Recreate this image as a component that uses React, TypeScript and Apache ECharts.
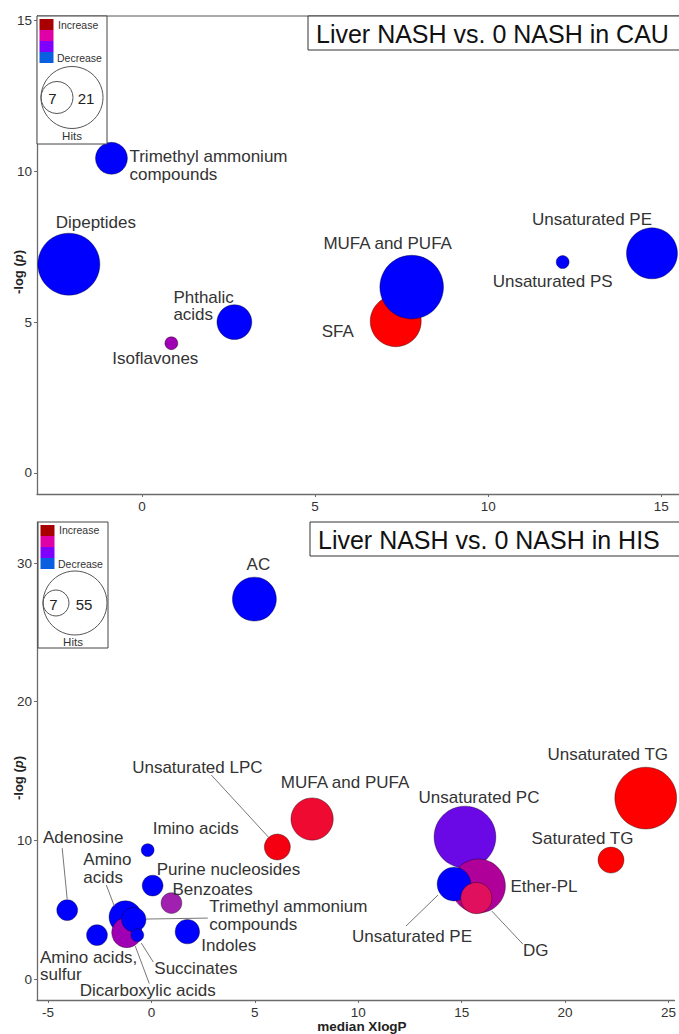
import React, { useEffect, useRef } from 'react';
import * as echarts from 'echarts';

const FONT = '"Liberation Sans", Arial, Helvetica, sans-serif';

// ---- Liver NASH vs. 0 NASH in CAU ----
const cauNames = [
  'Trimethyl ammonium\ncompounds',
  'Dipeptides',
  'Phthalic\nacids',
  'Isoflavones',
  'SFA',
  'MUFA and PUFA',
  'Unsaturated PS',
  'Unsaturated PE',
];
const cauXlogP = [-0.88, -2.11, 2.67, 0.85, 7.33, 7.79, 12.15, 14.73];
const cauLogP = [10.43, 6.92, 5.0, 4.3, 5.03, 6.16, 6.99, 7.28];
const cauHits = [7, 21, 8, 2, 15, 22, 2, 15];
const cauFill = ['#0000ff', '#0000ff', '#0000ff', '#a000b4', '#ff0000', '#0000ff', '#0000ff', '#0000ff'];
const cauLegendHits = [7, 21];
const cauXTicks = [0, 5, 10, 15];
const cauYTicks = [0, 5, 10, 15];

// ---- Liver NASH vs. 0 NASH in HIS ----
const hisNames = [
  'AC',
  'Imino acids',
  'Unsaturated LPC',
  'MUFA and PUFA',
  'Unsaturated PC',
  'Ether-PL',
  'Unsaturated PE',
  'DG',
  'Unsaturated TG',
  'Saturated TG',
  'Adenosine',
  'Amino\nacids',
  'Dicarboxylic acids',
  'Trimethyl ammonium\ncompounds',
  'Succinates',
  'Amino acids,\nsulfur',
  'Purine nucleosides',
  'Benzoates',
  'Indoles',
];
const hisXlogP = [4.98, -0.18, 6.09, 7.77, 15.16, 15.81, 14.63, 15.71, 23.9, 22.22, -4.07, -1.26, -1.19, -0.85, -0.68, -2.63, 0.06, 0.97, 1.74];
const hisLogP = [27.4, 9.3, 9.52, 11.54, 10.24, 6.71, 6.85, 5.84, 13.05, 8.58, 4.97, 4.47, 3.35, 4.29, 3.17, 3.17, 6.74, 5.48, 3.42];
const hisHits = [24, 1, 7, 22, 51, 38, 13, 11, 51, 7, 4, 12, 10, 6, 1, 4, 4, 4, 6];
const hisFill = [
  '#0000ff', '#0000ff', '#f50010', '#ee0a30', '#6a08e6', '#b0009a', '#0000ff', '#e0105e', '#ff0000', '#ff0000',
  '#0000ff', '#0000ff', '#a000b4', '#0000ff', '#0000ff', '#0000ff', '#0000ff', '#a020b0', '#0000ff',
];
const hisLegendHits = [7, 55];
const hisXTicks = [-5, 0, 5, 10, 15, 20, 25];
const hisYTicks = [0, 10, 20, 30];

const legendSwatches = ['#a80000', '#e000a8', '#8000ff', '#0a5fe0'];

// Label placement relative to each bubble centre: [dx, dy, align, leader line (x1, y1, x2, y2)]
type Place = [number, number, 'left' | 'center', number[]?];
const cauPlace: Place[] = [
  [18, 7, 'left'],
  [27, -42, 'center'],
  [-61, -16, 'left'],
  [-16, 15, 'center'],
  [-58, 10, 'center'],
  [-24, -44, 'center'],
  [-10, 19, 'center'],
  [-60, -34, 'center'],
];
const hisPlace: Place[] = [
  [4, -35, 'center'],
  [48, -22, 'center'],
  [-80, -80, 'center', [-66, -72, -9, -10]],
  [33, -37, 'center'],
  [14, -40, 'center'],
  [32, 0, 'left'],
  [-42, 52, 'center', [-48, 42, -16, 11]],
  [59.5, 52, 'center', [15.5, 13, 46.5, 46]],
  [-38, -44, 'center'],
  [-28.5, -22, 'center'],
  [16, -73, 'center', [-5, -62, 0, -11]],
  [-42, -48.5, 'left', [-19, -32, -11, -11]],
  [21, 58, 'center', [8.5, 13.5, 22.5, 51]],
  [75.5, -4, 'left', [12, -0.5, 74, -1.5]],
  [17, 33, 'left', [4, 8, 16, 27]],
  [-57, 31, 'left'],
  [4, -16.5, 'left'],
  [1, -14, 'left'],
  [14, 13.5, 'left'],
];

// Bubble radius grows with the square root of the number of hits
function radiusScale(h1: number, r1: number, h2: number, r2: number) {
  const b = (r2 - r1) / (Math.sqrt(h2) - Math.sqrt(h1));
  const a = r1 - b * Math.sqrt(h1);
  return (h: number) => a + b * Math.sqrt(h);
}
const cauRadius = radiusScale(7, 16, 21, 31);
const hisRadius = radiusScale(7, 13, 55, 32);

const AXIS_COLOR = '#6b6b6b';

function axisCommon(ticks: number[]) {
  return {
    type: 'value' as const,
    splitLine: { show: false },
    axisLine: { show: true, onZero: false, lineStyle: { color: AXIS_COLOR, width: 1.3 } },
    axisTick: { show: true, customValues: ticks, length: 3, lineStyle: { color: AXIS_COLOR, width: 1 } },
    axisLabel: { show: true, customValues: ticks, margin: 5, fontSize: 13.5, color: '#333', fontFamily: FONT },
  };
}

function bubbleSeries(idx: number, xs: number[], ys: number[], hits: number[], fills: string[], radius: (h: number) => number) {
  return {
    type: 'scatter',
    xAxisIndex: idx,
    yAxisIndex: idx,
    clip: false,
    silent: true,
    symbol: 'circle',
    data: xs.map((x, i) => ({ value: [x, ys[i], hits[i]], itemStyle: { color: fills[i] } })),
    symbolSize: (v: number[]) => 2 * radius(v[2]),
    itemStyle: { borderColor: 'rgba(0,0,0,0.45)', borderWidth: 0.8, opacity: 1 },
    emphasis: { disabled: true },
  };
}

function labelElements(chart: any, seriesIndex: number, xs: number[], ys: number[], names: string[], places: Place[]) {
  const els: any[] = [];
  xs.forEach((x, i) => {
    const [cx, cy] = chart.convertToPixel({ seriesIndex }, [x, ys[i]]);
    const [dx, dy, align, line] = places[i];
    if (line) {
      els.push({
        type: 'line',
        z: 20,
        shape: { x1: cx + line[0], y1: cy + line[1], x2: cx + line[2], y2: cy + line[3] },
        style: { stroke: '#777', lineWidth: 1 },
      });
    }
    els.push({
      type: 'text',
      z: 21,
      x: cx + dx,
      y: cy + dy,
      style: {
        text: names[i],
        fontSize: 17,
        fontFamily: FONT,
        fill: '#333',
        align,
        verticalAlign: 'middle',
        textAlign: align,
        textVerticalAlign: 'middle',
        lineHeight: 17.5,
      },
    });
  });
  return els;
}

function legendElements(
  box: { x: number; y: number; w: number; h: number },
  swTop: number,
  incY: number,
  decY: number,
  circleLeft: number,
  circleY: number,
  hits: number[],
  radius: (h: number) => number,
  numPos: number[][],
  hitsY: number
) {
  const els: any[] = [
    {
      type: 'rect',
      z: 30,
      shape: { x: box.x, y: box.y, width: box.w, height: box.h },
      style: { fill: '#fff', stroke: '#444', lineWidth: 1 },
    },
  ];
  legendSwatches.forEach((c, i) => {
    els.push({
      type: 'rect',
      z: 31,
      shape: { x: box.x + 2.5, y: swTop + i * 11, width: 14, height: 11 },
      style: { fill: c },
    });
  });
  const small = (t: string, x: number, y: number, size: number) => ({
    type: 'text',
    z: 32,
    x,
    y,
    style: {
      text: t,
      fontSize: size,
      fontFamily: FONT,
      fill: '#333',
      align: 'left',
      verticalAlign: 'middle',
      textAlign: 'left',
      textVerticalAlign: 'middle',
    },
  });
  els.push(small('Increase', box.x + 21, incY, 10.5));
  els.push(small('Decrease', box.x + 20, decY, 10.5));
  [hits[1], hits[0]].forEach((h) => {
    const r = radius(h);
    els.push({
      type: 'circle',
      z: 31,
      shape: { cx: circleLeft + r, cy: circleY, r },
      style: { fill: 'none', stroke: '#555', lineWidth: 1 },
    });
  });
  hits.forEach((h, i) => {
    els.push({
      type: 'text',
      z: 32,
      x: numPos[i][0],
      y: numPos[i][1],
      style: {
        text: String(h),
        fontSize: 15,
        fontFamily: FONT,
        fill: '#222',
        align: 'center',
        verticalAlign: 'middle',
        textAlign: 'center',
        textVerticalAlign: 'middle',
      },
    });
  });
  els.push({
    type: 'text',
    z: 32,
    x: box.x + box.w / 2,
    y: hitsY,
    style: {
      text: 'Hits',
      fontSize: 11.5,
      fontFamily: FONT,
      fill: '#333',
      align: 'center',
      verticalAlign: 'middle',
      textAlign: 'center',
      textVerticalAlign: 'middle',
    },
  });
  return els;
}

function titleBox(text: string, x: number, y: number) {
  return [
    {
      type: 'rect',
      z: 30,
      shape: { x, y, width: 400, height: 34 },
      style: { fill: '#fff', stroke: '#333', lineWidth: 1 },
    },
    {
      type: 'text',
      z: 31,
      x: x + 8,
      y: y + 17.5,
      style: {
        text,
        fontSize: 25,
        fontFamily: FONT,
        fill: '#111',
        align: 'left',
        verticalAlign: 'middle',
        textAlign: 'left',
        textVerticalAlign: 'middle',
      },
    },
  ];
}

function yTitle(y: number) {
  return {
    type: 'text',
    z: 30,
    x: 18,
    y,
    rotation: Math.PI / 2,
    style: {
      text: '{a|-log (}{b|p}{a|)}',
      align: 'center',
      verticalAlign: 'middle',
      textAlign: 'center',
      textVerticalAlign: 'middle',
      rich: {
        a: { fontSize: 13, fontWeight: 'bold', fontFamily: FONT, fill: '#222', color: '#222' },
        b: { fontSize: 13, fontWeight: 'bold', fontStyle: 'italic', fontFamily: FONT, fill: '#222', color: '#222' },
      },
    },
  };
}

export default function App() {
  const ref = useRef<HTMLDivElement>(null);

  useEffect(() => {
    if (!ref.current) return;
    const chart = echarts.init(ref.current, undefined, { renderer: 'svg' });
    chart.setOption({
      animation: false,
      backgroundColor: '#fff',
      grid: [
        { left: 37, right: 0, top: 16, height: 478, containLabel: false },
        { left: 37, right: 0, top: 522, height: 478, containLabel: false },
      ],
      xAxis: [
        { ...axisCommon(cauXTicks), gridIndex: 0, min: -3.03, max: 15.51 },
        { ...axisCommon(hisXTicks), gridIndex: 1, min: -5.53, max: 25.29 },
      ],
      yAxis: [
        { ...axisCommon(cauYTicks), gridIndex: 0, min: -0.7, max: 15.15 },
        { ...axisCommon(hisYTicks), gridIndex: 1, min: -1.51, max: 32.96 },
      ],
      series: [
        bubbleSeries(0, cauXlogP, cauLogP, cauHits, cauFill, cauRadius),
        bubbleSeries(1, hisXlogP, hisLogP, hisHits, hisFill, hisRadius),
      ],
    });

    const elements: any[] = [
      {
        type: 'line',
        z: 5,
        shape: { x1: 37, y1: 16, x2: 679, y2: 16 },
        style: { stroke: '#555', lineWidth: 1 },
      },
      ...labelElements(chart, 0, cauXlogP, cauLogP, cauNames, cauPlace),
      ...labelElements(chart, 1, hisXlogP, hisLogP, hisNames, hisPlace),
      ...legendElements({ x: 37, y: 16, w: 70, h: 128 }, 19, 25, 58, 41, 97.5, cauLegendHits, cauRadius, [[52.5, 98], [86, 98]], 136),
      ...legendElements({ x: 38, y: 522, w: 70, h: 126 }, 525, 530, 564, 43, 603, hisLegendHits, hisRadius, [[53.5, 604], [84, 604]], 642),
      ...titleBox('Liver NASH vs. 0 NASH in CAU', 308, 16),
      ...titleBox('Liver NASH vs. 0 NASH in HIS', 310, 522),
      yTitle(272),
      yTitle(778),
      {
        type: 'text',
        z: 30,
        x: 362,
        y: 1026,
        style: {
          text: 'median XlogP',
          fontSize: 13.5,
          fontWeight: 'bold',
          fontFamily: FONT,
          fill: '#222',
          align: 'center',
          verticalAlign: 'middle',
          textAlign: 'center',
          textVerticalAlign: 'middle',
        },
      },
    ];
    chart.setOption({ graphic: { elements } });

    return () => chart.dispose();
  }, []);

  return (
    <div
      ref={ref}
      style={{ position: 'fixed', left: 0, top: 0, width: 679, height: 1034, background: '#fff' }}
    />
  );
}
